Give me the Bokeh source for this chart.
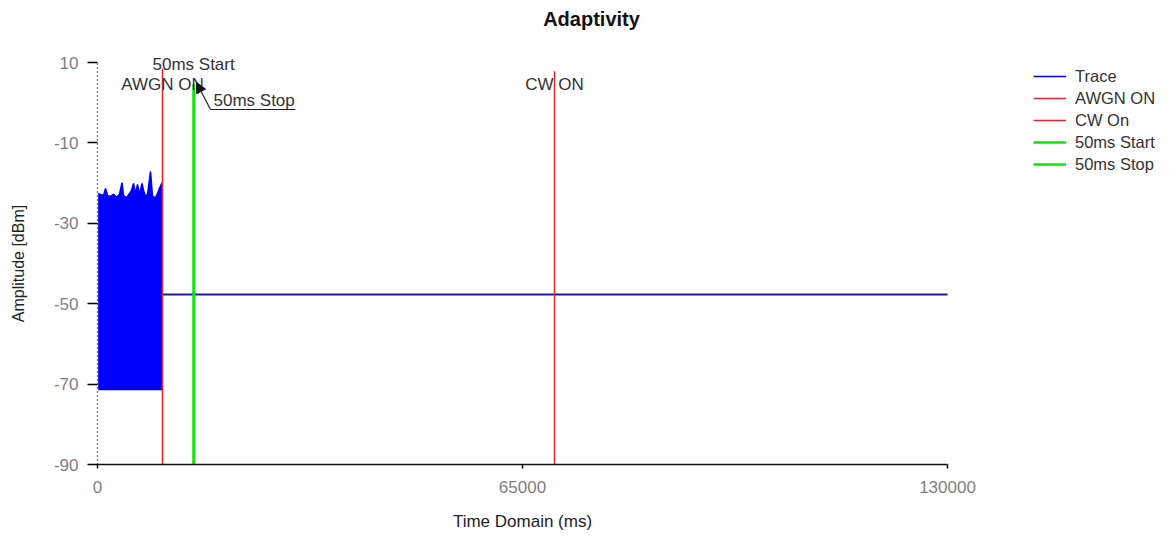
import math
from bokeh.plotting import figure
from bokeh.models import (Range1d, FixedTicker, Label, Arrow, NormalHead,
                          Legend, LegendItem, ColumnDataSource, NumeralTickFormatter)
from bokeh.embed import file_html
from bokeh.resources import INLINE

# ---------------- data ----------------
noise_time = [100, 460, 920, 1220, 1530, 1990, 2450, 2910, 3360, 3750, 3980,
              4440, 4890, 5200, 5510, 5810, 6120, 6420, 6810, 7040, 7340,
              7650, 8110, 8410, 8870, 9180, 9480, 9860]
noise_peak = [-22.6, -22.8, -23.1, -21.3, -23.1, -23.3, -22.8, -23.6, -22.8,
              -19.9, -23.1, -23.6, -22.6, -21.8, -20.1, -22.6, -20.3, -22.8,
              -20.1, -21.8, -23.3, -22.8, -17.1, -23.3, -23.6, -22.6, -21.3,
              -19.9]
noise_floor = [-71.5] * len(noise_time)
flat_time = [9940, 30000, 50000, 70000, 90000, 110000, 130000]
flat_level = [-47.7, -47.7, -47.7, -47.7, -47.7, -47.7, -47.7]

marker_names = ["AWGN ON", "CW On", "50ms Start", "50ms Stop"]
marker_times = [9940, 69900, 14700, 14750]

x_ticks = [0, 65000, 130000]
y_ticks = [10, -10, -30, -50, -70, -90]

FONT = "Liberation Sans"
W, H = 1169, 536

# axes span: x 0..130000 over px 97..947, y 10 at px 62 and -90 at px 464
X_PER_PX = 130000 / 850
DB_PER_PX = 100 / 402


def sx(px):
    return (px - 97) * X_PER_PX


def sy(py):
    return 10 - (py - 62) * DB_PER_PX


p = figure(width=W, height=H, output_backend="svg", toolbar_location=None,
           x_range=Range1d(sx(0), sx(W)), y_range=Range1d(sy(H), sy(0)),
           min_border=0, title=None)
p.outline_line_color = None
p.grid.visible = False
p.background_fill_color = "white"
p.border_fill_color = "white"

# axes (fixed inside the frame so the whole canvas can hold text)
xa = p.xaxis[0]
xa.fixed_location = -90
xa.ticker = FixedTicker(ticks=x_ticks)
xa.formatter = NumeralTickFormatter(format="0")
xa.bounds = (0, 130000)
xa.major_label_text_font = FONT
xa.major_label_text_font_size = "17px"
xa.major_label_text_color = "#808080"
xa.major_label_standoff = 12
xa.major_tick_out = 4
xa.major_tick_in = 0
xa.minor_tick_line_color = None
xa.axis_line_color = "#111111"
xa.axis_line_width = 1.5
xa.major_tick_line_width = 1.5

ya = p.yaxis[0]
ya.fixed_location = 0
ya.ticker = FixedTicker(ticks=y_ticks)
ya.formatter = NumeralTickFormatter(format="0")
ya.bounds = (-90, 10)
ya.major_label_text_font = FONT
ya.major_label_text_font_size = "17px"
ya.major_label_text_color = "#808080"
ya.major_label_standoff = 9
ya.major_tick_out = 10
ya.major_tick_in = 0
ya.minor_tick_line_color = None
ya.axis_line_color = "#111111"
ya.axis_line_dash = "1 3"
ya.axis_line_width = 1.5
ya.major_tick_line_width = 1.5

# trace
noise_src = ColumnDataSource(dict(t=noise_time, top=noise_peak, bot=noise_floor))
p.varea(x="t", y1="bot", y2="top", source=noise_src, fill_color="#0000ff")
r_trace = p.line(x="t", y="top", source=noise_src, line_color="#0000ff", line_width=1.5)
p.line(x=flat_time, y=flat_level, line_color="#1c1c96", line_width=2)

# markers
marker_colors = ["#e32626", "#e32626", "#12e012", "#12e012"]
marker_widths = [1.5, 1.5, 2.5, 2.5]
marker_tops = [8.5, 7.8, 4.5, 4.5]
marker_renderers = []
for t, c, w, top in zip(marker_times, marker_colors, marker_widths, marker_tops):
    r = p.segment(x0=[t], y0=[-90], x1=[t], y1=[top], line_color=c, line_width=w)
    marker_renderers.append(r)


def lab(text, x, y, align="center", size="17px", style="normal", color="#333333",
        angle=0.0):
    p.add_layout(Label(x=x, y=y, text=text, text_font=FONT, text_font_size=size,
                       text_font_style=style, text_color=color, text_align=align,
                       text_baseline="middle", angle=angle))


# title and axis titles
lab("Adaptivity", sx(591), sy(18), size="20px", style="bold", color="#111111")
lab("Time Domain (ms)", 65000, sy(521), color="#222222")
lab("Amplitude [dBm]", sx(18), -40, size="16px", color="#222222", angle=math.pi / 2)

# marker annotations
lab("50ms Start", marker_times[2], 9.5)
lab("AWGN ON", marker_times[0], 4.5)
lab("CW ON", marker_times[1], 4.5)
lab("50ms Stop", sx(213), sy(100), align="left")
p.segment(x0=[sx(210)], y0=[sy(109)], x1=[sx(295)], y1=[sy(109)],
          line_color="#222222", line_width=1.2)
p.add_layout(Arrow(end=NormalHead(size=10, fill_color="#111111", line_color="#111111"),
                   x_start=sx(210), y_start=sy(109), x_end=sx(196), y_end=sy(82),
                   line_color="#222222", line_width=1.2))

# legend
items = [LegendItem(label="Trace", renderers=[r_trace])]
for name, r in zip(marker_names, marker_renderers):
    items.append(LegendItem(label=name, renderers=[r]))
legend = Legend(items=items, location=(1023, H - 184), glyph_width=33, glyph_height=20,
                label_standoff=9, spacing=2, padding=10, margin=0,
                border_line_alpha=0, background_fill_alpha=0,
                label_text_font=FONT, label_text_font_size="16.5px",
                label_text_color="#333333", label_height=20)
p.add_layout(legend)

open("out.html", "w").write(file_html(p, INLINE))
